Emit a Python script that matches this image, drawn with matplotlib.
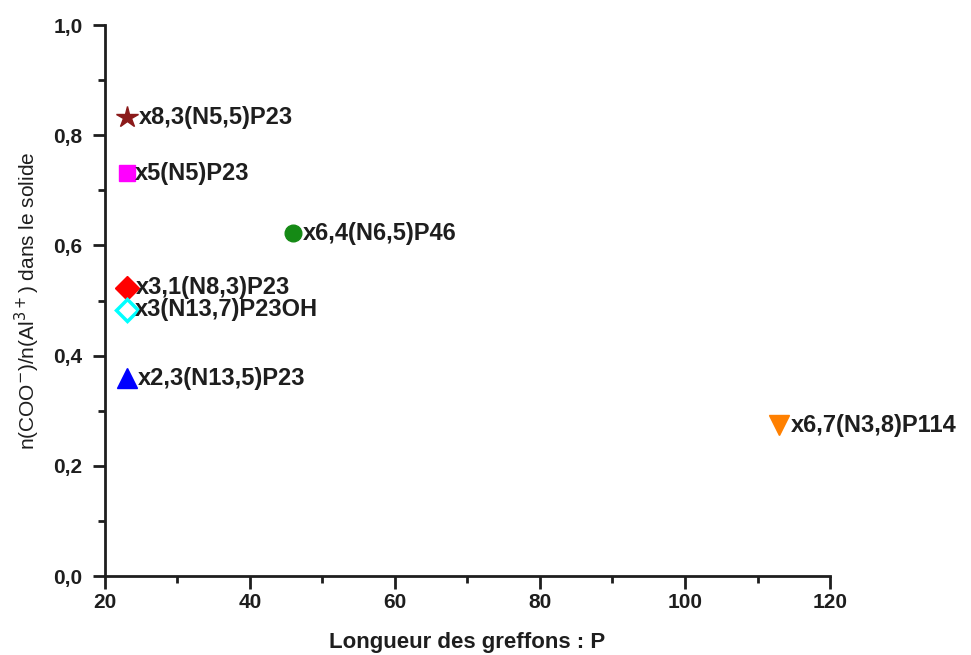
import matplotlib.pyplot as plt
from matplotlib.ticker import FuncFormatter, MultipleLocator

# data
names = ['x8,3(N5,5)P23', 'x5(N5)P23', 'x6,4(N6,5)P46', 'x3,1(N8,3)P23',
         'x3(N13,7)P23OH', 'x2,3(N13,5)P23', 'x6,7(N3,8)P114']
p_len = [23, 23, 46, 23, 23, 23, 113]
ratio = [0.833, 0.731, 0.622, 0.523, 0.483, 0.359, 0.274]
markers = ['*', 's', 'o', 'D', 'D', '^', 'v']
colors = ['#8b1a1a', '#ff00ff', '#158a15', '#ff0000', '#00ffff', '#0000ff', '#ff8000']
filled = [True, True, True, True, False, True, True]
sizes = [16, 11, 12, 12, 11, 15, 15]

plt.rcParams['font.family'] = ['Liberation Sans', 'DejaVu Sans']
ink = '#1e1e1e'

fig = plt.figure(figsize=(9.71, 6.55), dpi=100)
ax = fig.add_axes([0.1081, 0.1206, 0.7467, 0.8412])

for xv, yv, m, c, f, s, name in zip(p_len, ratio, markers, colors, filled, sizes, names):
    ax.plot(xv, yv, marker=m, markersize=s, linestyle='none',
            markerfacecolor=c if f else 'white', markeredgecolor=c,
            markeredgewidth=1 if f else 2.5, clip_on=False)
    ax.annotate(name, (xv, yv), xytext=(s * 0.55, 0), textcoords='offset points',
                ha='left', va='center', fontsize=17, fontweight='bold', color=ink)

ax.set_xlim(20, 120)
ax.set_ylim(0, 1.0)
ax.xaxis.set_major_locator(MultipleLocator(20))
ax.xaxis.set_minor_locator(MultipleLocator(10))
ax.yaxis.set_major_locator(MultipleLocator(0.2))
ax.yaxis.set_minor_locator(MultipleLocator(0.1))
ax.yaxis.set_major_formatter(FuncFormatter(lambda v, pos: f'{v:.1f}'.replace('.', ',')))

for side in ['top', 'right']:
    ax.spines[side].set_visible(False)
for side in ['left', 'bottom']:
    ax.spines[side].set_linewidth(2)
    ax.spines[side].set_color(ink)

ax.tick_params(which='major', direction='out', length=9, width=2, color=ink,
               labelsize=15, labelcolor=ink)
ax.tick_params(axis='y', which='major', pad=7)
ax.tick_params(which='minor', direction='out', length=5, width=2, color=ink)
for lab in ax.get_xticklabels() + ax.get_yticklabels():
    lab.set_fontweight('bold')

ax.set_xlabel('Longueur des greffons : P', fontsize=16, fontweight='bold',
              color=ink, labelpad=14)
ax.set_ylabel(r'n(COO$^{-}$)/n(Al$^{3+}$) dans le solide', fontsize=15,
              color=ink)
ax.yaxis.set_label_coords(-0.087, 0.5)

fig.savefig('out.png', dpi=100)
